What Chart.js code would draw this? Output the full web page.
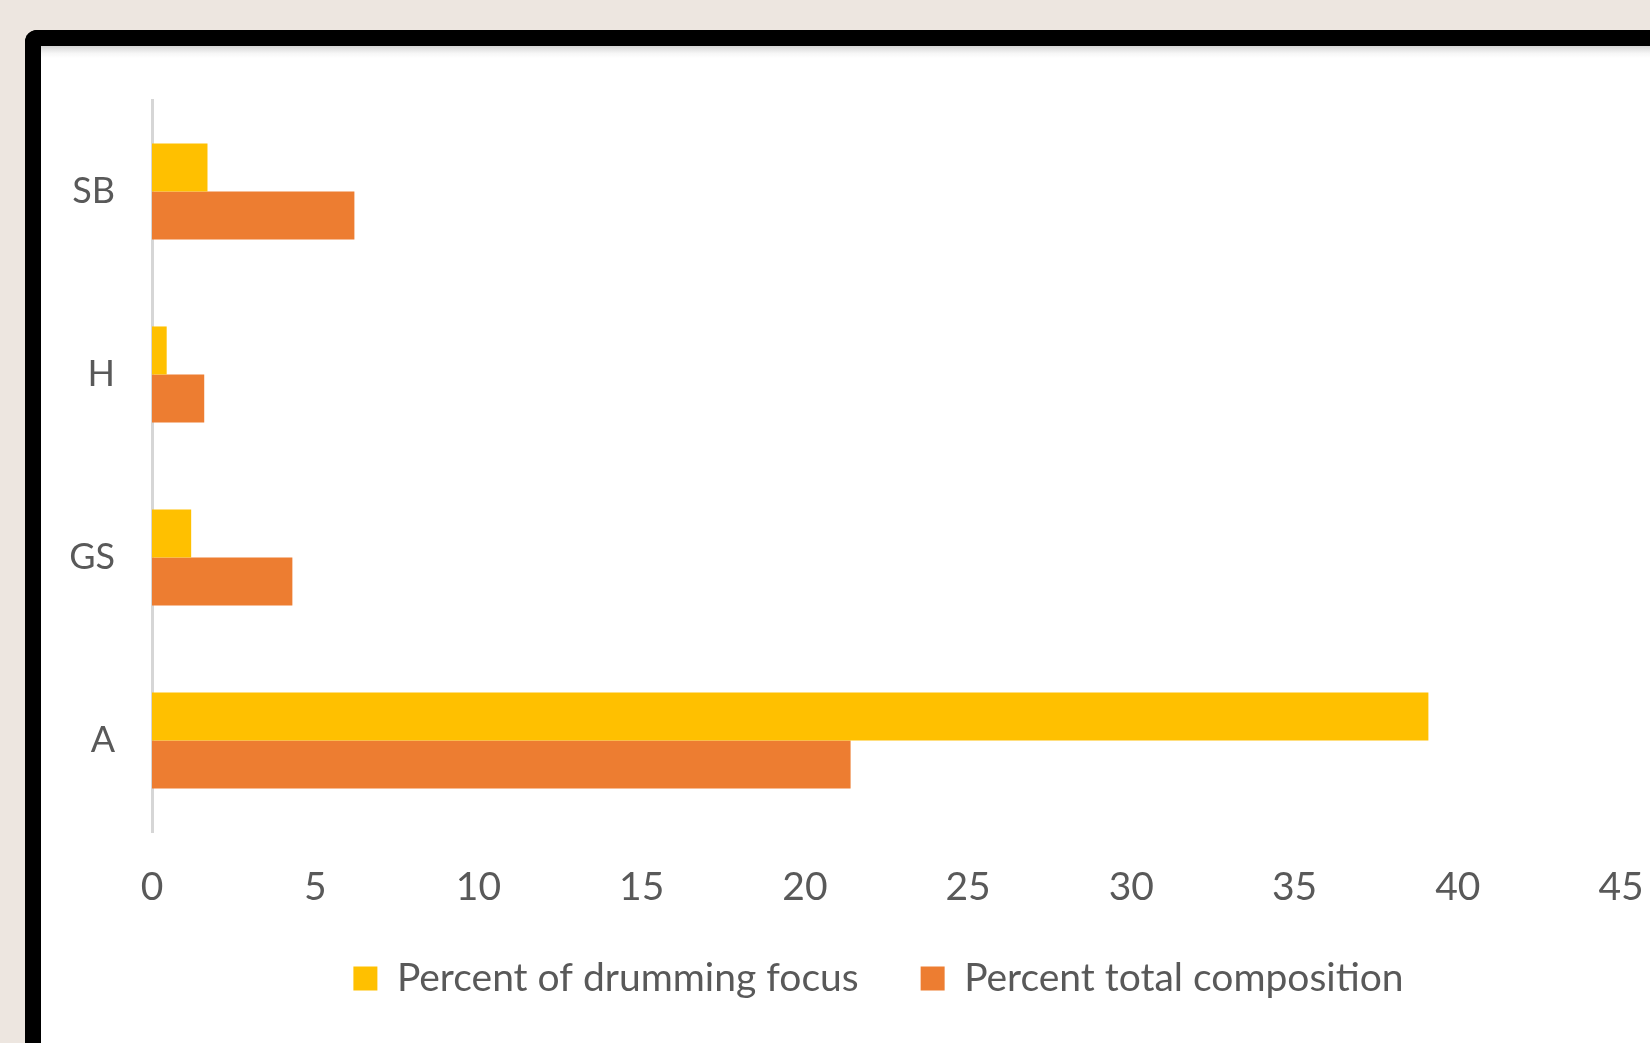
<!DOCTYPE html>
<html lang="en">
<head>
<meta charset="utf-8">
<title>Drumming focus</title>
<script src="https://cdn.jsdelivr.net/npm/chart.js"></script>
<style>
    html, body { margin: 0; padding: 0; }
    body { width: 1650px; height: 1043px; background: #ede6e0; overflow: hidden; position: relative; }
    .frame {
        position: absolute; left: 25px; top: 30px; width: 1700px; height: 1100px;
        background: #fff; border-left: 16px solid #000; border-top: 16px solid #000;
        border-top-left-radius: 12px;
    }
    .frame .shade { position: absolute; left: 0; top: 0; right: 0; height: 12px;
        background: linear-gradient(#d4d4d4, #f6f6f6 60%, #fff); }
    #chart { position: absolute; left: 0; top: 0; }
</style>
</head>
<body>
<div class="frame"><div class="shade"></div></div>
<canvas id="chart" width="1650" height="1043"></canvas>
<script>
    const categories = ['SB', 'H', 'GS', 'A'];
    const drummingFocus = [1.7, 0.45, 1.2, 39.1];
    const totalComposition = [6.2, 1.6, 4.3, 21.4];
    const xTicks = [0, 5, 10, 15, 20, 25, 30, 35, 40, 45];

    const textColor = '#595959';
    const fontFamily = 'Lato, "Open Sans", sans-serif';

    // the legend sits closer to the axis labels than chart.js would put it
    const legendPos = {
        id: 'legendPos',
        afterLayout(chart) {
            const lg = chart.legend;
            const h = lg.height;
            lg.top = 897;
            lg.bottom = lg.top + h;
            lg.left -= 8;
            lg.right -= 8;
        }
    };

    new Chart(document.getElementById('chart'), {
        type: 'bar',
        data: {
            labels: categories,
            datasets: [{
                label: 'Percent of drumming focus',
                data: drummingFocus,
                backgroundColor: '#ffc000',
                barPercentage: 1,
                categoryPercentage: 0.525
            }, {
                label: 'Percent total composition',
                data: totalComposition,
                backgroundColor: '#ed7d31',
                barPercentage: 1,
                categoryPercentage: 0.525
            }]
        },
        options: {
            indexAxis: 'y',
            responsive: false,
            animation: false,
            layout: { padding: { left: 0, top: 100, right: 29, bottom: 0 } },
            plugins: {
                tooltip: { enabled: false },
                legend: {
                    position: 'bottom',
                    fullSize: false,
                    labels: {
                        color: textColor,
                        font: { family: fontFamily, size: 39 },
                        boxWidth: 24,
                        boxHeight: 24,
                        padding: 62
                    }
                }
            },
            scales: {
                x: {
                    min: 0,
                    max: 45,
                    afterBuildTicks: (scale) => { scale.ticks = xTicks.map(v => ({ value: v })); },
                    afterFit: (scale) => {
                        scale.height = 100;
                        scale.paddingLeft = 0;
                        scale.paddingRight = 0;
                    },
                    grid: { display: false, drawTicks: false },
                    border: { display: false },
                    ticks: { color: textColor, font: { family: fontFamily, size: 39 }, padding: 32, maxRotation: 0 }
                },
                y: {
                    afterFit: (scale) => {
                        scale.width = 152;
                        scale.paddingTop = 0;
                        scale.paddingBottom = 0;
                    },
                    grid: { display: false, drawTicks: false },
                    border: { display: true, color: '#d6d6d6', width: 3 },
                    ticks: { color: textColor, font: { family: fontFamily, size: 36 }, padding: 37 }
                }
            }
        },
        plugins: [legendPos]
    });
</script>
</body>
</html>
